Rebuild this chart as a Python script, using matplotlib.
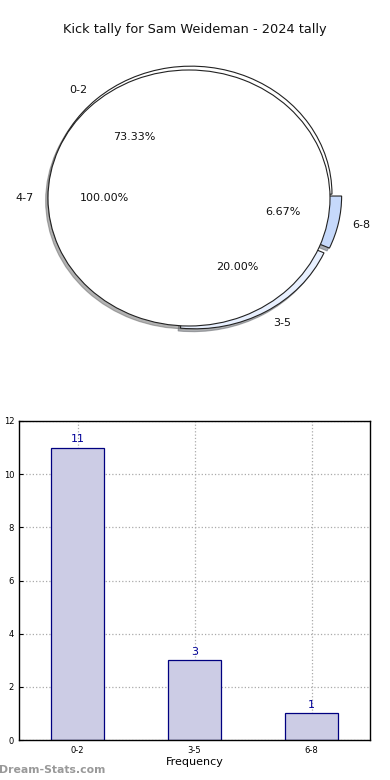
import matplotlib
matplotlib.use("Agg")
import matplotlib.pyplot as plt

title = "Kick tally for Sam Weideman - 2024 tally"
pie_labels = ["0-2", "3-5", "6-8"]
pie_values = [11, 3, 1]
pie_explode = [0.0, 0.06, 0.07]
pie_colors = ["#ffffff", "#e8f0ff", "#c6d9fb"]
extra_label = ["4-7"]
extra_value = [1]

bar_labels = ["0-2", "3-5", "6-8"]
bar_values = [11, 3, 1]

fig = plt.figure(figsize=(3.9, 7.8), dpi=100)
fig.text(0.5, 1 - 30 / 780, title, ha="center", va="center", fontsize=9.3, color="#111111")

# Pie
ax = fig.add_axes([5.7 / 390, 1 - 364.4 / 780, 366.6 / 390, 332.8 / 780])
shadow_style = dict(ox=-0.012, oy=-0.016, shade=0.6)

w1, t1, a1 = ax.pie(pie_values, labels=pie_labels, colors=pie_colors, explode=pie_explode,
                    startangle=0, counterclock=True, autopct="%1.2f%%", pctdistance=0.6,
                    labeldistance=1.1, center=(0.014, 0.03), shadow=shadow_style,
                    wedgeprops=dict(edgecolor="#222222", linewidth=0.8),
                    textprops=dict(fontsize=8, color="#111111"), frame=True)
w2, t2, a2 = ax.pie(extra_value, labels=extra_label, colors=["#ffffff"], startangle=0,
                    autopct="%1.2f%%", pctdistance=0.6, labeldistance=1.1, shadow=shadow_style,
                    wedgeprops=dict(edgecolor="#222222", linewidth=0.8),
                    textprops=dict(fontsize=8, color="#111111"), frame=True)
for w in w2:
    w.set_zorder(1.5)
ax.set_xlim(-1.3, 1.3)
ax.set_ylim(-1.3, 1.3)
ax.set_aspect("auto")
ax.axis("off")
for t in list(t1) + list(t2) + list(a1) + list(a2):
    t.set_clip_on(False)
    t.set_zorder(5)

# Bar chart
bx = fig.add_axes([19 / 390, 40 / 780, 351 / 390, 319 / 780])
xs = range(len(bar_labels))
bars = bx.bar(xs, bar_values, width=0.45, color="#ccccE5", edgecolor="#000080", linewidth=0.9, zorder=2)
for rect, v in zip(bars, bar_values):
    bx.text(rect.get_x() + rect.get_width() / 2, v + 0.12, str(v), ha="center", va="bottom",
            fontsize=8, color="#000099")
bx.set_xlim(-0.5, 2.5)
bx.set_ylim(0, 12)
bx.set_yticks(range(0, 13, 2))
bx.set_xticks(list(xs))
bx.set_xticklabels(bar_labels)
bx.tick_params(axis="both", labelsize=6, direction="in", length=3, color="#000000")
bx.tick_params(axis="x", pad=4)
bx.grid(True, linestyle=":", color="#aaaaaa", linewidth=0.9, zorder=0)
bx.set_axisbelow(True)
bx.set_xlabel("Frequency", fontsize=8, labelpad=2)
bx.set_ylabel("Number of kicks", fontsize=8, fontweight="bold")
bx.yaxis.set_label_coords(-0.052, 0.5)
for s in bx.spines.values():
    s.set_linewidth(1.0)

fig.text(-0.003, 10 / 780, "Dream-Stats.com", ha="left", va="center", fontsize=7.8,
         fontweight="bold", color="#999999")

fig.savefig("out.png", dpi=100)
